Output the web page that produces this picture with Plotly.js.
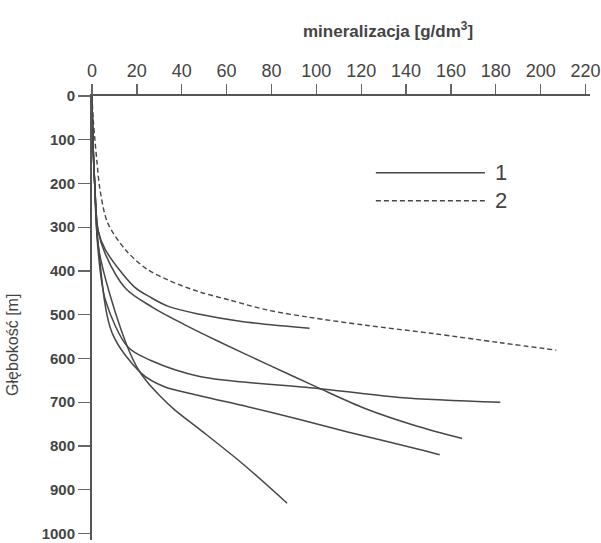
<!DOCTYPE html>
<html>
<head>
<meta charset="utf-8">
<script src="https://cdn.plot.ly/plotly-3.0.1.min.js"></script>
<style>html,body{margin:0;padding:0;background:#fff;}#chart{width:601px;height:543px;}</style>
</head>
<body>
<div id="chart"></div>
<script>
// mineralization [g/dm3] vs depth [m]
const xTicks = [0, 20, 40, 60, 80, 100, 120, 140, 160, 180, 200, 220];
const yTicks = [0, 100, 200, 300, 400, 500, 600, 700, 800, 900, 1000];

// series 2 (dashed)
const dashX = [0, 0.5, 1.3, 2.2, 3.6, 7, 15, 24, 34, 48, 61, 78, 97, 122, 152, 182, 207];
const dashY = [0, 50, 100, 150, 215, 290, 352, 394, 421, 448, 466, 489, 506, 524, 543, 564, 581];

// series 1 (solid curves)
const aX = [0, 0.4, 1.2, 2.7, 6, 19, 26, 34, 48, 66, 97];
const aY = [0, 100, 200, 307, 352, 437, 460, 481, 499, 515, 531];

const bX = [0, 0.4, 1.2, 2.7, 6, 15, 27, 41, 56, 78, 100, 122, 145, 165];
const bY = [0, 100, 200, 307, 362, 440, 483, 522, 560, 613, 665, 715, 755, 783];

const cX = [0, 0.4, 1.2, 2.7, 6, 16, 26, 48, 100, 137, 182];
const cY = [0, 100, 200, 352, 467, 574, 604, 641, 668, 689, 700];

const dX = [0, 0.4, 1.2, 3, 9, 22, 32, 48, 69, 93, 114, 146, 155];
const dY = [0, 100, 200, 350, 542, 634, 664, 685, 710, 740, 768, 808, 820];

const eX = [0, 0.4, 1.2, 3, 13, 20, 24, 30, 37, 48, 67, 87];
const eY = [0, 100, 200, 350, 535, 620, 650, 684, 718, 762, 840, 931];

const legendLabels = ['1', '2'];

const lineColor = '#474747';
const textColor = '#444';
const fontFam = '"Liberation Sans", Arial, sans-serif';

function solid(x, y) {
  return {x: x, y: y, type: 'scatter', mode: 'lines',
    line: {color: lineColor, width: 1.5, shape: 'spline', smoothing: 0.9},
    showlegend: false, hoverinfo: 'skip'};
}

const traces = [
  solid(aX, aY), solid(bX, bY), solid(cX, cY), solid(dX, dY), solid(eX, eY),
  {x: dashX, y: dashY, type: 'scatter', mode: 'lines',
   line: {color: lineColor, width: 1.4, dash: '5px,3px', shape: 'spline', smoothing: 0.9},
   showlegend: false, hoverinfo: 'skip'}
];

const layout = {
  width: 601, height: 543,
  margin: {l: 92, r: 11, t: 96, b: 3},
  paper_bgcolor: '#fff', plot_bgcolor: '#fff',
  font: {family: fontFam, color: textColor, size: 14},
  showlegend: false,
  xaxis: {
    side: 'top', range: [0, 222], tickvals: xTicks, ticktext: xTicks.map(String),
    showline: true, linecolor: '#555', linewidth: 2, mirror: false,
    ticks: 'outside', ticklen: 10, tickwidth: 1.3, tickcolor: '#666',
    ticklabeloverflow: 'allow',
    showgrid: false, zeroline: false, tickfont: {size: 18, color: textColor}
  },
  yaxis: {
    range: [1015, 0], tickvals: yTicks, ticktext: yTicks.map(s => '<b>' + s + '</b>'),
    showline: true, linecolor: '#555', linewidth: 2,
    ticks: 'outside', ticklen: 12, tickwidth: 1.3, tickcolor: '#666',
    ticklabeloverflow: 'allow',
    showgrid: false, zeroline: false, tickfont: {size: 15, color: textColor}
  },
  shapes: [
    {type: 'line', xref: 'paper', yref: 'paper', x0: 0.570, x1: 0.789, y0: 0.827, y1: 0.827,
     line: {color: lineColor, width: 1.5}},
    {type: 'line', xref: 'paper', yref: 'paper', x0: 0.570, x1: 0.789, y0: 0.764, y1: 0.764,
     line: {color: lineColor, width: 1.4, dash: '5px,3px'}}
  ],
  annotations: [
    {text: '<b>mineralizacja [g/dm<sup>3</sup>]</b>', xref: 'paper', yref: 'paper', x: 0.594, y: 1.149,
     xanchor: 'center', yanchor: 'middle', showarrow: false, font: {size: 17, color: textColor}},
    {text: 'Głębokość [m]', xref: 'paper', yref: 'paper', x: -0.161, y: 0.439, textangle: -90,
     xanchor: 'center', yanchor: 'middle', showarrow: false, font: {size: 16, color: textColor}},
    {text: legendLabels[0], xref: 'paper', yref: 'paper', x: 0.805, y: 0.827,
     xanchor: 'left', yanchor: 'middle', showarrow: false, font: {size: 22, color: textColor}},
    {text: legendLabels[1], xref: 'paper', yref: 'paper', x: 0.805, y: 0.764,
     xanchor: 'left', yanchor: 'middle', showarrow: false, font: {size: 22, color: textColor}}
  ]
};

Plotly.newPlot('chart', traces, layout, {displayModeBar: false, staticPlot: true});
</script>
</body>
</html>
